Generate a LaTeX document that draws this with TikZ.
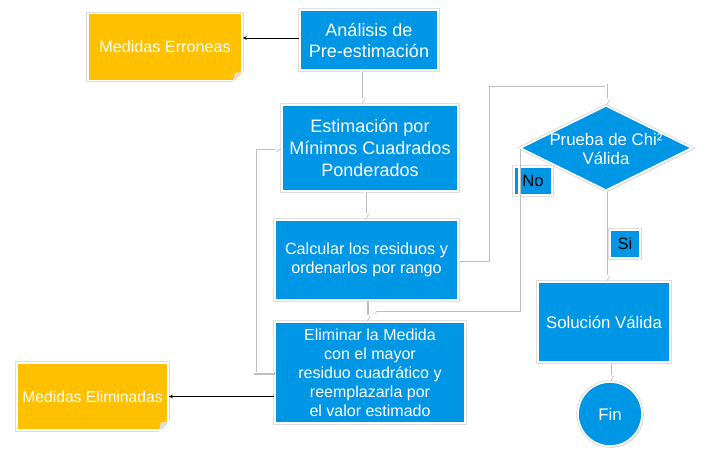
\documentclass[tikz,border=0pt]{standalone}
\usepackage{fontspec}
\setmainfont{Liberation Sans}
\usetikzlibrary{shapes.geometric,shadows,arrows.meta,calc}
\definecolor{boxblue}{RGB}{0,150,230}
\definecolor{boxorange}{RGB}{255,192,0}
\begin{document}
\begin{tikzpicture}[x=1pt,y=-1pt,
  shad/.style={drop shadow={shadow xshift=1.5pt,shadow yshift=-1.5pt,fill=black!60,opacity=0.35},
    preaction={draw=black!13,line width=3.6pt}},
  bluebox/.style={rectangle,fill=boxblue,draw=white,line width=1.6pt,text=white,align=center,inner sep=2pt,shad},
  orangebox/.style={rectangle,fill=boxorange,draw=white,line width=1.6pt,text=white,align=center,inner sep=2pt,shad},
  tagbox/.style={rectangle,fill=boxblue,draw=white,line width=1.6pt,text=black,inner sep=0pt,shad,font=\fontsize{16.5}{19}\selectfont},
  conn/.style={draw=white,line width=1.5pt,-{Triangle[width=7pt,length=6pt,fill=white]},
    preaction={draw=black!25,line width=3pt,transform canvas={shift={(0.6pt,-0.6pt)}}}},
  blk/.style={draw=black,line width=0.6pt,-{Stealth[length=4pt,width=3.5pt]}}
]
\fill[white] (0,0) rectangle (708,451);
\useasboundingbox (0,0) rectangle (708,451);

% nodes
\node[bluebox,minimum width=138pt,minimum height=60pt,font=\fontsize{18}{21}\selectfont] (ana) at (369,40) {Análisis de\\Pre-estimación};
\node[orangebox,minimum width=154pt,minimum height=67pt,font=\fontsize{16.2}{18}\selectfont] (err) at (165,47) {Medidas Erroneas};
\node[bluebox,minimum width=176pt,minimum height=86pt,font=\fontsize{18}{21.7}\selectfont] (est) at (370,148) {Estimación por\\Mínimos Cuadrados\\Ponderados};
\node[bluebox,minimum width=183pt,minimum height=80pt,font=\fontsize{16.2}{19}\selectfont] (calc) at (366.5,260) {Calcular los residuos y\\ordenarlos por rango};
\node[bluebox,minimum width=190pt,minimum height=101pt,font=\fontsize{16}{19}\selectfont] (elim) at (370,372.5) {Eliminar la Medida\\con el mayor\\residuo cuadrático y\\reemplazarla por\\el valor estimado};
\node[orangebox,minimum width=151pt,minimum height=67pt,font=\fontsize{15.7}{18}\selectfont] (elim2) at (92.5,396.5) {Medidas Eliminadas};
\node[diamond,fill=boxblue,draw=white,line width=1.6pt,minimum width=172pt,minimum height=85pt,inner sep=0pt,shad] (dia) at (606,148) {};
\node[text=white,align=center,font=\fontsize{16.8}{19.5}\selectfont] (diatext) at (606,149) {Prueba de Chi²\\Válida};
\node[bluebox,minimum width=132pt,minimum height=80pt,font=\fontsize{16.8}{19}\selectfont] (sol) at (604,322) {Solución Válida};
\node[circle,fill=boxblue,draw=white,line width=1.6pt,minimum size=64pt,inner sep=0pt,text=white,font=\fontsize{16.8}{19}\selectfont,shad] (fin) at (610,414) {Fin};
\node[tagbox,minimum width=38pt,minimum height=28pt] (no) at (533,181) {No};
\node[tagbox,minimum width=30pt,minimum height=28pt] (si) at (625,244) {Si};

% folded corners
\foreach \n in {err,elim2}{
  \fill[white] ($(\n.south east)+(-10,1)$) -- ($(\n.south east)+(1,-10)$) -- ($(\n.south east)+(1,1)$) -- cycle;
  \fill[black!12] ($(\n.south east)+(-10,0)$) -- ($(\n.south east)+(0,-10)$) -- ($(\n.south east)+(-8,-8)$) -- cycle;
}

% connectors
\coordinate (c1) at (488,85);
\coordinate (c2) at (520,310);
\coordinate (c3) at (255,370);
\draw[conn] ([xshift=-8pt]ana.south) -- ([xshift=-8pt]ana.south |- est.north);
\draw[conn] ([xshift=-5pt]est.south) -- ([xshift=-5pt]est.south |- calc.north);
\draw[conn] (calc.east) -| (c1) -| (dia.north);
\draw[conn] (dia.west) |- ([xshift=3pt]calc.south |- c2);
\draw[conn] (calc.south) -- (calc.south |- elim.north);
\draw[conn] (elim.west) -- (elim.west -| c3) -- (c3 |- est.west) -- (est.west);
\draw[conn] (dia.south) -- (dia.south |- sol.north);
\draw[conn] (fin.north |- sol.south) -- (fin.north);
\draw[blk] ([yshift=2pt]ana.west) -- ([yshift=2pt]ana.west -| err.east);
\draw[blk] (elim.west |- elim2) -- (elim2.east);
\end{tikzpicture}
\end{document}
